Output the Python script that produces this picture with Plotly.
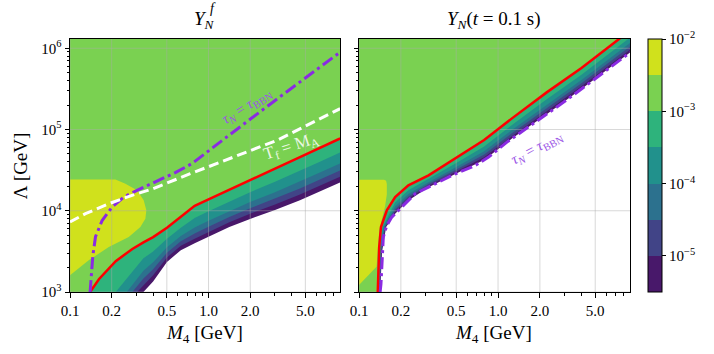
import plotly.graph_objects as go

FONT = "Liberation Serif"

# axis ranges in log10 units
X_RANGE = [-1.0, 0.949]   # log10(M4 / GeV)
Y_RANGE = [3.0, 6.114]    # log10(Lambda / GeV)

# colour bands: log10(Y) level edges and viridis band colours
levels = [-5.5, -5.0, -4.5, -4.0, -3.5, -3.0, -2.5, -2.0]
band_colors = ["#48186a", "#414487", "#2c718e", "#21918c", "#2eb37c", "#7ad151", "#d0e11c"]

x_ticks = [0.1, 0.2, 0.5, 1.0, 2.0, 5.0]
x_ticktext = ["0.1", "0.2", "0.5", "1.0", "2.0", "5.0"]
x_minor = [0.3, 0.4, 0.6, 0.7, 0.8, 0.9, 3, 4, 6, 7, 8]
y_ticks = [1e3, 1e4, 1e5, 1e6]
y_ticktext = ["10<sup>3</sup>", "10<sup>4</sup>", "10<sup>5</sup>", "10<sup>6</sup>"]
y_minor = [2e3, 3e3, 4e3, 5e3, 6e3, 7e3, 8e3, 9e3, 2e4, 3e4, 4e4, 5e4, 6e4, 7e4, 8e4, 9e4,
           2e5, 3e5, 4e5, 5e5, 6e5, 7e5, 8e5, 9e5]
cb_ticks = [-2, -3, -4, -5]
cb_ticktext = ["10<sup>−2</sup>", "10<sup>−3</sup>", "10<sup>−4</sup>", "10<sup>−5</sup>"]

# ---------------- left panel: Y_N^f contour boundaries (log10 M4, log10 Lambda)
L_red_x = [-0.855, -0.79, -0.67, -0.55, -0.47, -0.4, -0.3, -0.2, -0.1, 0.0, 0.15, 0.3, 0.48, 0.66, 0.8, 0.95]
L_red_y = [3.0, 3.16, 3.38, 3.53, 3.61, 3.675, 3.79, 3.92, 4.06, 4.14, 4.26, 4.383, 4.52, 4.66, 4.77, 4.89]
L_grid_x = [-0.47, -0.4, -0.3, -0.2, -0.1, 0.0, 0.15, 0.3, 0.48, 0.66, 0.8, 0.95]
L_b35_x = [-0.67] + L_grid_x
L_b35_y = [3.0, 3.415, 3.497, 3.656, 3.79, 3.911, 3.993, 4.113, 4.228, 4.357, 4.49, 4.60, 4.717]
L_b40_x = [-0.59] + L_grid_x
L_b40_y = [3.0, 3.262, 3.365, 3.551, 3.689, 3.795, 3.878, 3.998, 4.108, 4.229, 4.358, 4.468, 4.582]
L_b45_x = [-0.55] + L_grid_x
L_b45_y = [3.0, 3.165, 3.28, 3.483, 3.624, 3.721, 3.804, 3.924, 4.03, 4.148, 4.273, 4.383, 4.496]
L_b50_x = [-0.515] + L_grid_x
L_b50_y = [3.0, 3.079, 3.205, 3.425, 3.568, 3.655, 3.74, 3.86, 3.963, 4.076, 4.199, 4.309, 4.42]
L_b55_x = L_grid_x
L_b55_y = [3.0, 3.13, 3.37, 3.515, 3.60, 3.68, 3.80, 3.90, 4.01, 4.13, 4.24, 4.35]
L_yel_x = [-1.02, -0.672, -0.60, -0.516, -0.468, -0.449, -0.456, -0.492, -0.576, -0.72, -0.865, -0.96, -1.02]
L_yel_y = [4.386, 4.386, 4.333, 4.251, 4.128, 4.005, 3.903, 3.80, 3.677, 3.553, 3.39, 3.267, 3.18]
L_tau_x = [-0.855, -0.848, -0.835, -0.816, -0.768, -0.696, -0.612, -0.516, -0.408, -0.24, -0.12, -0.06, 0.156, 0.49, 0.95]
L_tau_y = [3.0, 3.2, 3.45, 3.68, 3.88, 4.046, 4.168, 4.251, 4.333, 4.47, 4.58, 4.66, 4.94, 5.37, 5.952]
L_tf_x = [-1.0, -0.888, -0.72, -0.552, -0.40, -0.132, 0.18, 0.493, 0.78, 0.95]
L_tf_y = [3.861, 3.964, 4.087, 4.19, 4.272, 4.456, 4.66, 4.866, 5.112, 5.256]

# ---------------- right panel: Y_N(t = 0.1 s) contour boundaries
R_red_x = [-0.865, -0.862, -0.855, -0.842, -0.80, -0.74, -0.645, -0.50, -0.30, -0.1, 0.1, 0.35, 0.6, 0.951]
R_red_y = [3.0, 3.3, 3.55, 3.80, 4.005, 4.168, 4.312, 4.435, 4.648, 4.87, 5.137, 5.457, 5.758, 6.22]
R_diag_x = [-0.74, -0.645, -0.5, -0.3, -0.1, 0.1, 0.35, 0.6, 0.951]
R_b35_x = [-0.8596, -0.8524, -0.830] + R_diag_x
R_b35_y = [3.0, 3.5, 3.8, 4.102, 4.252, 4.389, 4.587, 4.792, 5.056, 5.371, 5.675, 6.134]
R_b40_x = [-0.8553, -0.8456, -0.821] + R_diag_x
R_b40_y = [3.0, 3.5, 3.8, 4.051, 4.206, 4.352, 4.540, 4.731, 4.993, 5.303, 5.61, 6.066]
R_b45_x = [-0.8526, -0.8413, -0.815] + R_diag_x
R_b45_y = [3.0, 3.5, 3.8, 4.018, 4.176, 4.329, 4.509, 4.692, 4.953, 5.26, 5.569, 6.023]
R_b50_x = [-0.8502, -0.8375, -0.810] + R_diag_x
R_b50_y = [3.0, 3.5, 3.8, 3.990, 4.150, 4.309, 4.483, 4.658, 4.918, 5.222, 5.533, 5.985]
R_b55_x = [-0.848, -0.834, -0.805] + R_diag_x
R_b55_y = [3.0, 3.5, 3.8, 3.963, 4.126, 4.29, 4.458, 4.626, 4.888, 5.187, 5.499, 5.95]
R_yel_x = [-1.02, -0.82, -0.805, -0.80, -0.80, -0.813, -0.835, -0.854, -0.866, -0.874, -1.02]
R_yel_y = [4.383, 4.383, 4.37, 4.33, 4.20, 4.05, 3.90, 3.76, 3.50, 3.31, 3.05]
R_tau_x = [-0.848, -0.842, -0.825, -0.80, -0.764, -0.692, -0.596, -0.50, -0.332, -0.164, -0.068, 0.064, 0.304, 0.472, 0.666, 0.951]
R_tau_y = [3.0, 3.10, 3.677, 3.82, 3.922, 4.046, 4.21, 4.29, 4.435, 4.558, 4.66, 4.845, 5.13, 5.337, 5.583, 5.95]


def lin(v):
    return [10 ** a for a in v]


def region_above(xs, ys, xlo=-1.1, ylo=2.9, yhi=6.3):
    px = [xlo, xs[0]] + list(xs) + [xs[-1], xlo]
    py = [ylo, ylo] + list(ys) + [yhi, yhi]
    return lin(px), lin(py)


fig = go.Figure()


def add_fill(px, py, color, ax):
    fig.add_trace(go.Scatter(x=px, y=py, mode="lines", fill="toself", fillcolor=color,
                             line=dict(width=0), hoverinfo="skip", showlegend=False,
                             xaxis=ax[0], yaxis=ax[1]))


def add_line(xs, ys, ax, **line):
    fig.add_trace(go.Scatter(x=lin(xs), y=lin(ys), mode="lines", line=line,
                             hoverinfo="skip", showlegend=False, xaxis=ax[0], yaxis=ax[1]))


def add_grid(ax):
    gx, gy = [], []
    for t in x_ticks:
        gx += [t, t, None]
        gy += [10 ** Y_RANGE[0], 10 ** Y_RANGE[1], None]
    for t in y_ticks:
        gx += [10 ** X_RANGE[0], 10 ** X_RANGE[1], None]
        gy += [t, t, None]
    fig.add_trace(go.Scatter(x=gx, y=gy, mode="lines",
                             line=dict(color="rgba(170,170,170,0.45)", width=1),
                             hoverinfo="skip", showlegend=False, xaxis=ax[0], yaxis=ax[1]))


panels = [
    (("x", "y"), [(L_b55_x, L_b55_y), (L_b50_x, L_b50_y), (L_b45_x, L_b45_y), (L_b40_x, L_b40_y),
                  (L_b35_x, L_b35_y), (L_red_x, L_red_y)], (L_yel_x, L_yel_y)),
    (("x2", "y2"), [(R_b55_x, R_b55_y), (R_b50_x, R_b50_y), (R_b45_x, R_b45_y), (R_b40_x, R_b40_y),
                    (R_b35_x, R_b35_y), (R_red_x, R_red_y)], (R_yel_x, R_yel_y)),
]

for ax, bounds, yel in panels:
    for i, (bx, by) in enumerate(bounds):
        px, py = region_above(bx, by)
        add_fill(px, py, band_colors[i], ax)
    add_fill(lin(yel[0]), lin(yel[1]), band_colors[6], ax)
    add_grid(ax)

# left panel lines
add_line(L_red_x, L_red_y, ("x", "y"), color="red", width=2.5)
add_line(L_tau_x, L_tau_y, ("x", "y"), color="#8a2be2", width=3, dash="12px,4px,3px,4px")
add_line(L_tf_x, L_tf_y, ("x", "y"), color="white", width=3, dash="10px,5px")
# right panel lines
add_line(R_red_x, R_red_y, ("x2", "y2"), color="red", width=2.5)
add_line(R_tau_x, R_tau_y, ("x2", "y2"), color="#8a2be2", width=3, dash="12px,4px,3px,4px")

# colour bar (discrete bands)
cs = []
n = len(band_colors)
for i, c in enumerate(band_colors):
    cs += [[i / n, c], [(i + 1) / n, c]]
fig.add_trace(go.Scatter(
    x=[None], y=[None], mode="markers", showlegend=False, hoverinfo="skip",
    marker=dict(color=[-3], colorscale=cs, cmin=levels[0], cmax=levels[-1], showscale=True,
                colorbar=dict(x=1.0321, xanchor="left", y=0.5, yanchor="middle", len=1,
                              lenmode="fraction", thickness=14, ypad=0, xpad=0,
                              outlinewidth=1, outlinecolor="black",
                              tickmode="array", tickvals=cb_ticks, ticktext=cb_ticktext,
                              ticks="outside", ticklen=4, tickcolor="black",
                              tickfont=dict(family=FONT, size=15, color="black"))),
    xaxis="x", yaxis="y"))

axis_common = dict(type="log", showline=True, linecolor="black", linewidth=1, mirror=True,
                   showgrid=False, zeroline=False, ticks="outside", ticklen=4.5, tickwidth=1,
                   tickcolor="black", automargin=False,
                   tickfont=dict(family=FONT, size=15, color="black"))

xa = dict(axis_common, range=X_RANGE, tickmode="array", tickvals=x_ticks, ticktext=x_ticktext,
          minor=dict(tickmode="array", tickvals=x_minor, ticks="outside", ticklen=2.5,
                     tickcolor="black", tickwidth=0.8, showgrid=False))
ya = dict(axis_common, range=Y_RANGE, tickmode="array", tickvals=y_ticks, ticktext=y_ticktext,
          minor=dict(tickmode="array", tickvals=y_minor, ticks="outside", ticklen=2.5,
                     tickcolor="black", tickwidth=0.8, showgrid=False))

fig.update_layout(
    template="none",
    width=714, height=354,
    margin=dict(l=70, r=84, t=39, b=62, autoexpand=False),
    paper_bgcolor="white", plot_bgcolor="white",
    xaxis=dict(xa, domain=[0, 270 / 560], anchor="y"),
    yaxis=dict(ya, domain=[0, 1], anchor="x"),
    xaxis2=dict(xa, domain=[289 / 560, 1], anchor="y2"),
    yaxis2=dict(ya, domain=[0, 1], anchor="x2", showticklabels=False),
    font=dict(family=FONT, color="black"),
)

# red marker of the 1e-3 level on the colour bar
fig.add_shape(type="line", xref="paper", yref="paper", x0=1.0321, x1=1.0571,
              y0=(-3 - levels[0]) / (levels[-1] - levels[0]),
              y1=(-3 - levels[0]) / (levels[-1] - levels[0]),
              line=dict(color="red", width=3))

P = dict(xref="paper", yref="paper", showarrow=False, xanchor="center", yanchor="middle")
ann = [
    dict(P, text="<i>Y</i><sub><i>N</i></sub>", x=0.241, y=1.075, font=dict(size=19)),
    dict(P, text="<i>f</i>", x=0.255, y=1.12, font=dict(size=14)),
    dict(P, text="<i>Y</i><sub><i>N</i></sub>(<i>t</i> = 0.1 s)", x=0.757, y=1.075, font=dict(size=19)),
    dict(P, text="<i>M</i><sub>4</sub> [GeV]", x=0.241, y=-0.165, font=dict(size=19)),
    dict(P, text="<i>M</i><sub>4</sub> [GeV]", x=0.757, y=-0.165, font=dict(size=19)),
    dict(P, text="Λ [GeV]", x=-0.088, y=0.5, textangle=-90, font=dict(size=19)),
    dict(text="<i>τ</i><sub><i>N</i></sub> = <i>τ</i><sub>BBN</sub>", x=0.281, y=5.29, xref="x",
         yref="y", textangle=-32, showarrow=False, font=dict(size=15, color="#9b55e6")),
    dict(text="T<sub>f</sub> = M<sub>A</sub>", x=0.60, y=4.79, xref="x", yref="y",
         textangle=-18, showarrow=False, font=dict(size=17, color="rgba(255,255,255,0.85)")),
    dict(text="<i>τ</i><sub><i>N</i></sub> = <i>τ</i><sub>BBN</sub>", x=0.28, y=4.776, xref="x2",
         yref="y2", textangle=-28, showarrow=False, font=dict(size=15, color="#9b55e6")),
]
fig.update_layout(annotations=ann)

fig.write_html("out.html", config={"displayModeBar": False},
               post_script="document.body.style.margin='0';document.body.style.padding='0';")
